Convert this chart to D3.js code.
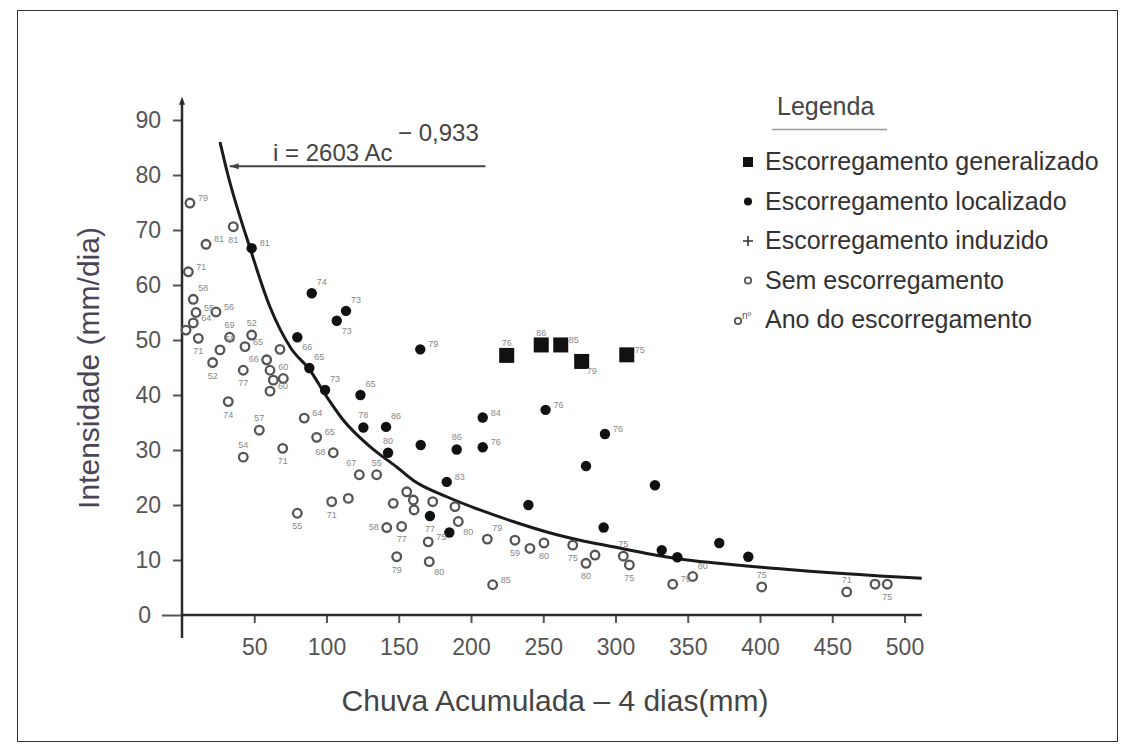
<!DOCTYPE html>
<html>
<head>
<meta charset="utf-8">
<script src="https://cdn.jsdelivr.net/npm/d3@7"></script>
<style>
  body { margin: 0; background: #fff; }
  svg { display: block; font-family: "Liberation Sans", Arial, sans-serif; }
</style>
</head>
<body>
<svg id="chart" width="1132" height="749"></svg>
<script>
// tick values
var xTicks = [50, 100, 150, 200, 250, 300, 350, 400, 450, 500];
var yTicks = [0, 10, 20, 30, 40, 50, 60, 70, 80, 90];

// escorregamento generalizado: [chuva acumulada, intensidade, ano, lado do rótulo]
var generalizado = [
  [224.7, 47.2, "76", "t"], [248.6, 49.1, "86", "t"], [262.1, 49.1, "85", "r"],
  [276.6, 46.1, "79", "br"], [307.8, 47.3, "75", "r"]
];

// escorregamento localizado
var localizado = [
  [48.2, 66.7, "81", "r"], [89.8, 58.5, "74", "tr"], [113.5, 55.3, "73", "tr"],
  [107.1, 53.5, "73", "br"], [79.8, 50.5, "66", "br"], [88.1, 44.9, "65", "tr"],
  [99.0, 40.9, "73", "tr"], [123.5, 40.0, "65", "tr"], [125.5, 34.1, "78", "t"],
  [141.2, 34.2, "86", "tr"], [142.6, 29.5, "80", "t"], [164.9, 48.3, "79", "r"],
  [165.2, 30.9, "", ""], [190.1, 30.1, "86", "t"], [208.1, 30.5, "76", "r"],
  [208.1, 35.9, "84", "r"], [251.6, 37.3, "76", "r"], [292.7, 32.9, "76", "r"],
  [279.6, 27.1, "", ""], [183.2, 24.2, "83", "r"], [171.6, 18.0, "77", "b"],
  [185.0, 15.0, "", ""], [239.7, 20.0, "", ""], [291.8, 15.9, "", ""],
  [327.3, 23.6, "", ""], [332.0, 11.8, "", ""], [342.8, 10.5, "", ""],
  [371.8, 13.1, "", ""], [391.9, 10.6, "", ""]
];

// sem escorregamento
var semEscorregamento = [
  [5.5, 74.9, "79", "r"], [35.5, 70.6, "81", "b"], [16.6, 67.4, "81", "r"],
  [4.4, 62.4, "71", "r"], [7.8, 57.4, "58", "tr"], [9.7, 55.0, "55", "r"],
  [23.5, 55.1, "56", "r"], [7.8, 53.1, "64", "r"], [2.8, 51.8, "", ""],
  [11.3, 50.3, "71", "b"], [32.9, 50.5, "69", "t"], [48.2, 50.9, "52", "t"],
  [26.3, 48.2, "58", "tr"], [43.6, 48.8, "65", "r"], [67.8, 48.3, "", ""],
  [21.2, 45.9, "52", "b"], [58.6, 46.4, "66", "l"], [42.4, 44.5, "77", "b"],
  [60.9, 44.5, "", ""], [63.2, 42.7, "", ""], [70.1, 43.0, "60", "t"],
  [60.9, 40.7, "60", "r"], [32.0, 38.8, "74", "b"], [53.5, 33.6, "57", "t"],
  [84.6, 35.8, "64", "r"], [93.2, 32.3, "65", "r"], [104.7, 29.5, "68", "l"],
  [42.4, 28.7, "54", "t"], [69.7, 30.3, "71", "b"], [122.7, 25.5, "67", "tl"],
  [134.7, 25.5, "55", "t"], [115.1, 21.2, "", ""], [103.6, 20.6, "71", "b"],
  [79.8, 18.5, "55", "b"], [146.2, 20.3, "", ""], [141.7, 15.9, "58", "l"],
  [148.6, 10.6, "79", "b"], [155.5, 22.4, "", ""], [160.1, 20.9, "", ""],
  [160.6, 19.1, "", ""], [173.5, 20.6, "", ""], [188.9, 19.7, "", ""],
  [191.2, 17.0, "80", "br"], [152.0, 16.1, "77", "b"], [170.4, 13.3, "75", "r"],
  [171.1, 9.7, "80", "br"], [211.3, 13.8, "79", "tr"], [230.4, 13.6, "59", "b"],
  [240.8, 12.1, "", ""], [250.5, 13.1, "80", "b"], [270.4, 12.7, "75", "b"],
  [285.8, 10.9, "", ""], [279.6, 9.4, "80", "b"], [215.0, 5.5, "85", "r"],
  [305.4, 10.7, "75", "t"], [309.6, 9.1, "75", "b"], [353.4, 7.0, "80", "tr"],
  [339.6, 5.6, "79", "r"], [401.2, 5.1, "75", "t"], [460.0, 4.2, "71", "t"],
  [479.6, 5.6, "", ""], [488.1, 5.6, "75", "b"]
];

// curva limite
var curva = [
  [26.3, 86.0], [31.8, 80.0], [47.1, 66.7], [60.9, 56.0], [75.4, 48.5],
  [88.6, 44.5], [100.1, 39.7], [111.4, 35.5], [130.1, 30.6], [148.6, 26.9],
  [159.9, 24.5], [183.2, 21.5], [206.2, 19.1], [229.1, 17.0], [252.4, 15.1],
  [275.4, 13.6], [298.3, 12.4], [321.6, 11.2], [344.6, 10.2], [367.5, 9.5],
  [390.8, 8.9], [413.8, 8.4], [436.7, 7.9], [460.0, 7.5], [483.0, 7.1], [511.9, 6.7]
];

var legendItems = [
  ["square", "Escorregamento generalizado"],
  ["dot", "Escorregamento localizado"],
  ["plus", "Escorregamento induzido"],
  ["circle", "Sem escorregamento"],
  ["year", "Ano do escorregamento"]
];

var svg = d3.select("#chart");
var ink = "#2b2b2b", grey = "#555";

// frame
svg.append("rect").attr("x", 17.5).attr("y", 10.5).attr("width", 1100).attr("height", 731)
  .attr("fill", "none").attr("stroke", "#333").attr("stroke-width", 1);

var x = d3.scaleLinear().domain([0, 500]).range([182, 904.5]);
var y = d3.scaleLinear().domain([0, 90]).range([615, 120]);

// x axis
var xAxis = svg.append("g").attr("transform", "translate(0," + y(0) + ")")
  .call(d3.axisBottom(x).tickValues(xTicks).tickSize(8).tickPadding(16));
xAxis.select(".domain").remove();
xAxis.selectAll(".tick line").attr("stroke", grey).attr("stroke-width", 2);
xAxis.selectAll(".tick text").attr("fill", grey).style("font-size", "23px")
  .style("font-family", "Liberation Sans, Arial, sans-serif");

// y axis
var yAxis = svg.append("g").attr("transform", "translate(" + x(0) + ",0)")
  .call(d3.axisLeft(y).tickValues(yTicks).tickSize(9).tickPadding(12));
yAxis.select(".domain").remove();
yAxis.selectAll(".tick line").attr("stroke", grey).attr("stroke-width", 2)
  .attr("x2", d => d === 0 ? -20 : -9);
yAxis.selectAll(".tick text").attr("fill", grey).style("font-size", "23px")
  .style("font-family", "Liberation Sans, Arial, sans-serif")
  .attr("x", d => d === 0 ? -31 : -21);

// axis lines
svg.append("line").attr("x1", x(0)).attr("x2", x(512)).attr("y1", y(0)).attr("y2", y(0))
  .attr("stroke", ink).attr("stroke-width", 2.5);
svg.append("line").attr("x1", x(0)).attr("x2", x(0)).attr("y1", y(0) + 23).attr("y2", y(93.5))
  .attr("stroke", ink).attr("stroke-width", 2.5);
svg.append("path")
  .attr("d", "M" + x(0) + "," + (y(93.5) - 4) + "l-3,8h6z")
  .attr("fill", ink);

// axis titles
svg.append("text").attr("x", 555).attr("y", 711).attr("text-anchor", "middle")
  .attr("fill", "#444").style("font-size", "30px").text("Chuva Acumulada – 4 dias(mm)");
svg.append("text").attr("transform", "translate(99,368) rotate(-90)").attr("text-anchor", "middle")
  .attr("fill", "#4a4458").style("font-size", "30px").text("Intensidade (mm/dia)");

// curve
var line = d3.line().x(d => x(d[0])).y(d => y(d[1])).curve(d3.curveMonotoneX);
svg.append("path").datum(curva).attr("d", line)
  .attr("fill", "none").attr("stroke", "#1a1a1a").attr("stroke-width", 3);

// equation annotation
var eq = svg.append("g");
eq.append("line").attr("x1", x(33)).attr("x2", x(210)).attr("y1", y(81.6)).attr("y2", y(81.6))
  .attr("stroke", "#444").attr("stroke-width", 2);
eq.append("path").attr("d", "M" + x(33) + "," + y(81.6) + "l9,-3v6z").attr("fill", "#444");
eq.append("text").attr("x", 273).attr("y", 161).attr("fill", "#444")
  .style("font-size", "24px").text("i = 2603 Ac");
eq.append("text").attr("x", 398).attr("y", 141).attr("fill", "#444")
  .style("font-size", "24px").text("− 0,933");

// year labels
function labelPos(code) {
  var m = { r: [8, -2, "start"], tr: [5, -8, "start"], br: [5, 13, "start"],
            t: [0, -9, "middle"], b: [0, 16, "middle"], l: [-8, 2, "end"], tl: [-3, -9, "end"] };
  return m[code] || [8, -2, "start"];
}
function addLabels(data) {
  svg.append("g").selectAll("text").data(data.filter(d => d[2] !== "")).join("text")
    .attr("x", d => x(d[0]) + labelPos(d[3])[0])
    .attr("y", d => y(d[1]) + labelPos(d[3])[1])
    .attr("text-anchor", d => labelPos(d[3])[2])
    .attr("fill", "#888").style("font-size", "9px").text(d => d[2]);
}

// markers
svg.append("g").selectAll("circle").data(semEscorregamento).join("circle")
  .attr("cx", d => x(d[0])).attr("cy", d => y(d[1])).attr("r", 4.3)
  .attr("fill", "#fff").attr("stroke", "#555").attr("stroke-width", 2.3);
svg.append("g").selectAll("circle").data(localizado).join("circle")
  .attr("cx", d => x(d[0])).attr("cy", d => y(d[1])).attr("r", 5.2).attr("fill", "#111");
svg.append("g").selectAll("rect").data(generalizado).join("rect")
  .attr("x", d => x(d[0]) - 7.5).attr("y", d => y(d[1]) - 7.5)
  .attr("width", 15).attr("height", 15).attr("fill", "#111");
addLabels(semEscorregamento);
addLabels(localizado);
addLabels(generalizado);

// legend
var lg = svg.append("g");
lg.append("text").attr("x", 777).attr("y", 115).attr("fill", "#444")
  .style("font-size", "25px").text("Legenda");
lg.append("line").attr("x1", 772).attr("x2", 887).attr("y1", 129.5).attr("y2", 129.5)
  .attr("stroke", "#999").attr("stroke-width", 1.5);
var rows = lg.selectAll("g.row").data(legendItems).join("g")
  .attr("class", "row").attr("transform", (d, i) => "translate(748," + (162 + i * 39.5) + ")");
rows.each(function (d) {
  var g = d3.select(this);
  if (d[0] === "square") g.append("rect").attr("x", -5).attr("y", -5).attr("width", 10).attr("height", 10).attr("fill", "#111");
  if (d[0] === "dot") g.append("circle").attr("r", 4).attr("fill", "#111");
  if (d[0] === "plus") {
    g.append("path").attr("d", "M-5,0h10M0,-5v10").attr("stroke", "#333").attr("stroke-width", 1.6);
  }
  if (d[0] === "circle") g.append("circle").attr("r", 3.2).attr("fill", "none").attr("stroke", "#555").attr("stroke-width", 1.8);
  if (d[0] === "year") {
    g.append("circle").attr("cx", -10).attr("cy", 1).attr("r", 3.2).attr("fill", "none").attr("stroke", "#555").attr("stroke-width", 1.8);
    g.append("text").attr("x", -6).attr("y", -1).attr("fill", "#555").style("font-size", "10px").text("nº");
  }
});
rows.append("text").attr("x", 17).attr("y", 8).attr("fill", "#333")
  .style("font-size", "25px").text(d => d[1]);
</script>
</body>
</html>
